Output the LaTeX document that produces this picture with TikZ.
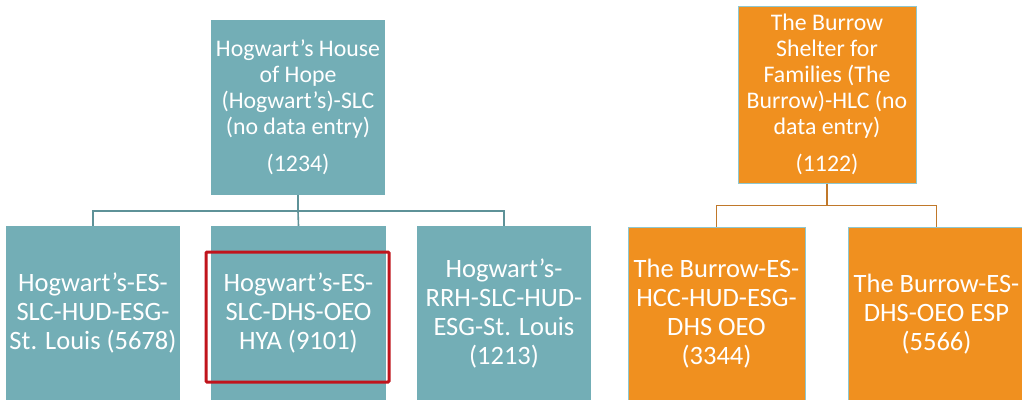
\documentclass[tikz,border=0pt]{standalone}
\usepackage{fontspec}
\setmainfont{Carlito}
\definecolor{tealbox}{HTML}{73AEB6}
\definecolor{tealline}{HTML}{5E9298}
\definecolor{orangebox}{HTML}{F0901F}
\definecolor{orangeline}{HTML}{C0782A}
\definecolor{oborder}{HTML}{8EC7CF}
\definecolor{redmark}{HTML}{C0141C}
\tikzset{
  tbox/.style={fill=tealbox, draw=none, text=white, align=center, inner sep=0pt},
  obox/.style={fill=orangebox, draw=oborder, line width=1pt, text=white, align=center, inner sep=0pt},
  topfont/.style={font=\fontsize{23.8}{26}\selectfont},
  botfont/.style={font=\fontsize{26.5}{29}\selectfont},
  tconn/.style={draw=tealline, line width=1.6pt},
  oconn/.style={draw=orangeline, line width=1.6pt},
  hilite/.style={draw=redmark, line width=3pt, rounded corners=1pt, fill=none}
}
\begin{document}
\begin{tikzpicture}[x=1pt,y=-1pt]
\useasboundingbox (0,0) rectangle (1022,399);
\clip (0,0) rectangle (1022,399);
\fill[white] (0,0) rectangle (1022,399);
% teal tree
\node[tbox, topfont, minimum width=174pt, minimum height=175pt] (t0) at (298,107.5)
  {Hogwart’s House\\of Hope\\(Hogwart’s)-SLC\\(no data entry)\\[11pt](1234)};
\node[tbox, botfont, minimum width=174pt, minimum height=174pt] (t1) at (93,313)
  {Hogwart’s-ES-\\SLC-HUD-ESG-\\St. Louis (5678)};
\node[tbox, botfont, minimum width=175pt, minimum height=174pt] (t2) at (298.5,313)
  {Hogwart’s-ES-\\SLC-DHS-OEO\\HYA (9101)};
\node[tbox, botfont, minimum width=174pt, minimum height=174pt] (t3) at (504,313)
  {Hogwart’s-\\RRH-SLC-HUD-\\ESG-St. Louis\\(1213)};
\draw[tconn] (t0.south) -- ++(0,16) coordinate (tj) -| (t1.north);
\draw[tconn] (tj) -- (t2.north);
\draw[tconn] (tj) -| (t3.north);
\node[hilite, minimum width=183pt, minimum height=130pt] (hl) at (297.5,317) {};
% orange tree
\node[obox, topfont, minimum width=178pt, minimum height=177pt] (o0) at (827,94.5)
  {The Burrow\\Shelter for\\Families (The\\Burrow)-HLC (no\\data entry)\\[11pt](1122)};
\node[obox, botfont, minimum width=177pt, minimum height=174pt] (o1) at (716.5,314)
  {The Burrow-ES-\\HCC-HUD-ESG-\\DHS OEO\\(3344)};
\node[obox, botfont, minimum width=177pt, minimum height=174pt] (o2) at (936.5,314)
  {The Burrow-ES-\\DHS-OEO ESP\\(5566)};
\draw[oconn] (o0.south) -- ++(0,22) coordinate (oj) -| (o1.north);
\draw[oconn] (oj) -| (o2.north);
\end{tikzpicture}
\end{document}
